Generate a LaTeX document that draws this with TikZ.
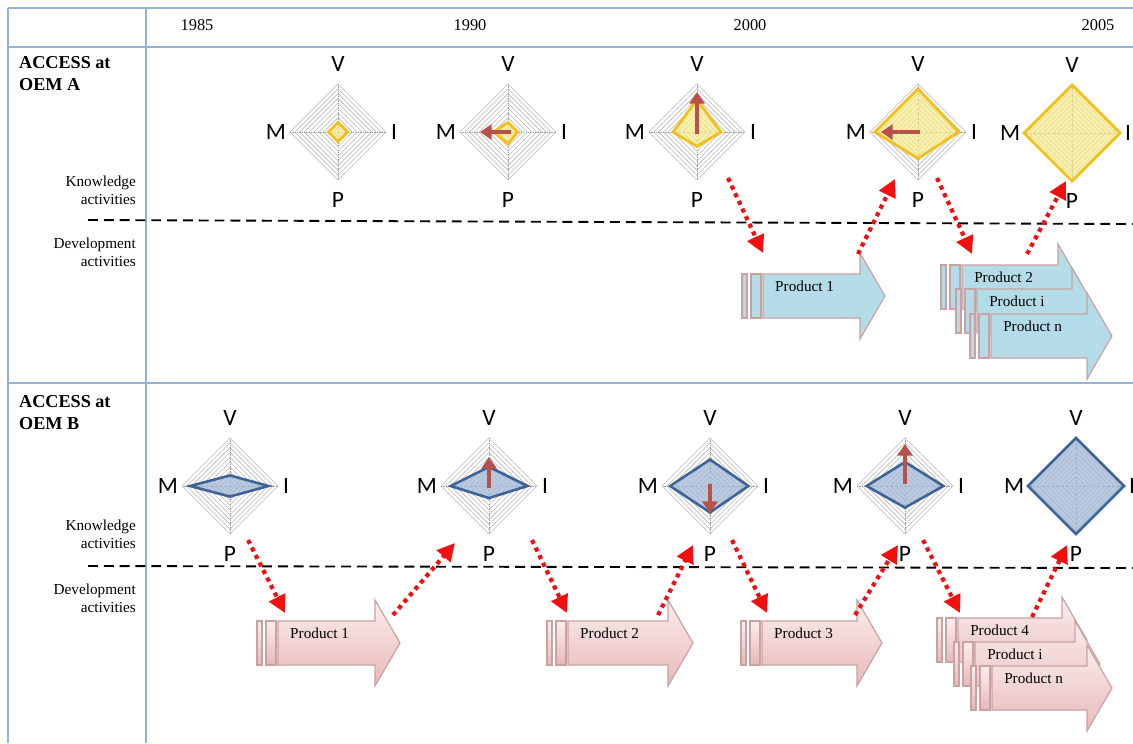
\documentclass[tikz,border=0pt]{standalone}
\usepackage{fontspec}
\setmainfont{Liberation Serif}
\newfontfamily\axisfont{Carlito}
\usepackage{tikz}
\usetikzlibrary{arrows.meta}
\usetikzlibrary{calc}

\definecolor{tableblue}{HTML}{95B3D7}
\definecolor{radargold}{HTML}{F0C020}
\definecolor{radaryellow}{HTML}{F7EA80}
\definecolor{radarblue}{HTML}{3E6497}
\definecolor{radarbluefill}{HTML}{9DB5D6}
\definecolor{trendred}{HTML}{B8504B}
\definecolor{linkred}{HTML}{F01010}
\definecolor{prodblue}{HTML}{B4DCE8}
\definecolor{prodpink}{HTML}{E8B8B7}
\definecolor{prodpinklight}{HTML}{FBEEEE}
\definecolor{prodedge}{HTML}{C9A2A2}

\tikzset{
  tablerule/.style={draw=tableblue, line width=1pt},
  splitline/.style={draw=black, line width=1.6pt, dash pattern=on 8.5pt off 5pt},
  gridline/.style={draw=gray!55, line width=0.5pt},
  gridaxis/.style={draw=gray!80, line width=0.5pt, dash pattern=on 1pt off 1pt},
  axislabel/.style={font=\axisfont\fontsize{20}{20}\selectfont, inner sep=0pt},
  yellowdata/.style={draw=radargold, fill=radaryellow, fill opacity=0.65, line width=2.4pt},
  bluedata/.style={draw=radarblue, fill=radarbluefill, fill opacity=0.7, line width=2.2pt},
  trend/.style={draw=trendred, line width=3.4pt, -{Triangle[length=10pt,width=13pt]}},
  link/.style={draw=linkred, line width=3.6pt, dash pattern=on 3.6pt off 3.6pt,
    -{Triangle[length=15pt,width=15pt]}},
  blueprod/.style={draw=prodedge, line width=1pt, fill=prodblue},
  pinkprod/.style={draw=prodedge, line width=1pt, top color=prodpinklight, bottom color=prodpink},
  prodlabel/.style={font=\fontsize{13}{13}\selectfont, inner sep=0pt},
  yearlabel/.style={font=\fontsize{14}{14}\selectfont},
  rowtitle/.style={font=\bfseries\fontsize{15.5}{19}\selectfont, align=left, inner sep=0pt},
  sidelabel/.style={font=\fontsize{13}{15.5}\selectfont, align=right, inner sep=0pt},
}

% radar chart: name, x, y, V, I, P, M, style
\newcommand{\radar}[8]{%
  \begin{scope}[shift={(#2,#3)}]
    \coordinate (#1) at (0,0);
    \foreach \k in {1,...,10}
      \draw[gridline] (0,-4.8*\k) -- (4.8*\k,0) -- (0,4.8*\k) -- (-4.8*\k,0) -- cycle;
    \draw[gridaxis] (-48,0) -- (48,0) (0,-48) -- (0,48);
    \draw[#8] (0,-48*#4) -- (48*#5,0) -- (0,48*#6) -- (-48*#7,0) -- cycle;
    \node[axislabel] (#1V) at (0,-68) {V};
    \node[axislabel] (#1I) at (56,0) {I};
    \node[axislabel] (#1P) at (0,68) {P};
    \node[axislabel] (#1M) at (-62,0) {M};
  \end{scope}}

% product arrow: name, left, centre y, tip, style, text
\newcommand{\product}[6]{%
  \draw[#5] (#2-21,#3-22) rectangle (#2-16,#3+22);
  \draw[#5] (#2-12,#3-22) rectangle (#2-2,#3+22);
  \draw[#5] (#2,#3-22) -- (#4-25,#3-22) -- (#4-25,#3-43) -- (#4,#3)
    -- (#4-25,#3+43) -- (#4-25,#3+22) -- (#2,#3+22) -- cycle;
  \node[prodlabel, anchor=west] (#1) at (#2+12,#3-10) {#6};}

\begin{document}
\begin{tikzpicture}[x=0.03cm, y=-0.03cm]
    \useasboundingbox[fill=white] (0,0) rectangle (1133,743);

    % table
    \draw[tablerule] (8,8) -- (1133,8) (8,47) -- (1133,47) (8,383) -- (1133,383);
    \draw[tablerule] (8,8) -- (8,743) (146,8) -- (146,743);

    \node[yearlabel] (y85) at (197,25) {1985};
    \node[yearlabel] (y90) at (470,25) {1990};
    \node[yearlabel] (y00) at (750,25) {2000};
    \node[yearlabel] (y05) at (1098,25) {2005};

    \node[rowtitle, anchor=north west] (oemA) at (19,56) {ACCESS at\\OEM A};
    \node[sidelabel, anchor=east] (knowA) at (136,190) {Knowledge\\activities};
    \node[sidelabel, anchor=east] (devA) at (136,252) {Development\\activities};
    \node[rowtitle, anchor=north west] (oemB) at (19,395) {ACCESS at\\OEM B};
    \node[sidelabel, anchor=east] (knowB) at (136,534) {Knowledge\\activities};
    \node[sidelabel, anchor=east] (devB) at (136,598) {Development\\activities};

    \draw[splitline] (88,220) -- (1133,224);
    \draw[splitline] (88,566) -- (1133,568);

    % OEM A
    \radar{ra1}{338}{132}{0.2}{0.2}{0.2}{0.2}{yellowdata}
    \radar{ra2}{508}{132}{0.2}{0.2}{0.25}{0.3}{yellowdata}
    \radar{ra3}{697}{132}{0.67}{0.5}{0.3}{0.5}{yellowdata}
    \radar{ra4}{918}{132}{0.9}{0.85}{0.55}{0.9}{yellowdata}
    \radar{ra5}{1072}{133}{1}{1}{1}{1}{yellowdata}
    \draw[trend] ($(ra2)+(3,0)$) -- ($(ra2)+(-28,0)$);
    \draw[trend] ($(ra3)+(0,2)$) -- ($(ra3)+(0,-40)$);
    \draw[trend] ($(ra4)+(2,0)$) -- ($(ra4)+(-37,0)$);

    \product{pa1}{763}{296}{885}{blueprod}{Product 1}
    \product{pa2}{962}{287}{1083}{blueprod}{Product 2}
    \product{pai}{977}{311}{1097}{blueprod}{Product i}
    \product{pan}{991}{336}{1112}{blueprod}{Product n}

    \coordinate (la1s) at (728,178); \coordinate (la1e) at (763,253);
    \coordinate (la2s) at (858,254); \coordinate (la2e) at (895,179);
    \coordinate (la3s) at (937,178); \coordinate (la3e) at (972,254);
    \coordinate (la4s) at (1027,254); \coordinate (la4e) at (1066,181);
    \draw[link] (la1s) -- (la1e);
    \draw[link] (la2s) -- (la2e);
    \draw[link] (la3s) -- (la3e);
    \draw[link] (la4s) -- (la4e);

    % OEM B
    \radar{rb1}{230}{486}{0.22}{0.8}{0.22}{0.83}{bluedata}
    \radar{rb2}{489}{486}{0.4}{0.8}{0.25}{0.8}{bluedata}
    \radar{rb3}{710}{486}{0.55}{0.8}{0.55}{0.83}{bluedata}
    \radar{rb4}{905}{486}{0.5}{0.8}{0.45}{0.8}{bluedata}
    \radar{rb5}{1076}{486}{1}{1}{1}{1}{bluedata}
    \draw[trend] ($(rb2)+(0,2)$) -- ($(rb2)+(0,-29)$);
    \draw[trend] ($(rb3)+(0,-2)$) -- ($(rb3)+(0,27)$);
    \draw[trend] ($(rb4)+(0,-2)$) -- ($(rb4)+(0,-42)$);

    \product{pb1}{278}{643}{400}{pinkprod}{Product 1}
    \product{pb2}{568}{643}{693}{pinkprod}{Product 2}
    \product{pb3}{762}{643}{882}{pinkprod}{Product 3}
    \product{pb4}{958}{640}{1087}{pinkprod}{Product 4}
    \product{pbi}{975}{664}{1100}{pinkprod}{Product i}
    \product{pbn}{992}{688}{1112}{pinkprod}{Product n}

    \coordinate (lb1s) at (248,540); \coordinate (lb1e) at (285,613);
    \coordinate (lb2s) at (393,615); \coordinate (lb2e) at (455,543);
    \coordinate (lb3s) at (532,540); \coordinate (lb3e) at (567,613);
    \coordinate (lb4s) at (658,615); \coordinate (lb4e) at (693,545);
    \coordinate (lb5s) at (732,540); \coordinate (lb5e) at (767,613);
    \coordinate (lb6s) at (855,615); \coordinate (lb6e) at (898,545);
    \coordinate (lb7s) at (923,540); \coordinate (lb7e) at (960,613);
    \coordinate (lb8s) at (1032,617); \coordinate (lb8e) at (1067,545);
    \draw[link] (lb1s) -- (lb1e);
    \draw[link] (lb2s) -- (lb2e);
    \draw[link] (lb3s) -- (lb3e);
    \draw[link] (lb4s) -- (lb4e);
    \draw[link] (lb5s) -- (lb5e);
    \draw[link] (lb6s) -- (lb6e);
    \draw[link] (lb7s) -- (lb7e);
    \draw[link] (lb8s) -- (lb8e);
\end{tikzpicture}
\end{document}
